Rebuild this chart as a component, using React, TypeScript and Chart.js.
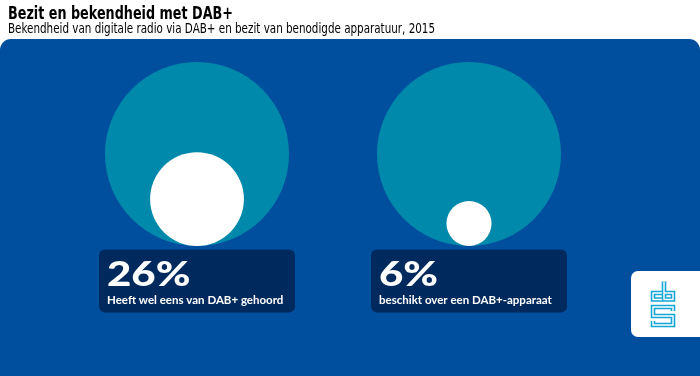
import React, { useEffect, useRef } from 'react';
import { Chart, registerables } from 'chart.js';

Chart.register(...registerables);

const chartTitle = 'Bezit en bekendheid met DAB+';
const chartSubtitle = 'Bekendheid van digitale radio via DAB+ en bezit van benodigde apparatuur, 2015';
const categories = ['Heeft wel eens van DAB+ gehoord', 'beschikt over een DAB+-apparaat'];
const shareValues = [26, 6];
const wholeValues = [100, 100];
const valueLabels = ['26%', '6%'];

const PANEL = '#004f9f';
const TEAL = '#0089aa';
const BOX = '#002a5e';
const LOGO = '#12a5d6';
const TITLE_FONT = "'DejaVu Sans', sans-serif";
const SUB_FONT = "'DejaVu Sans Condensed', 'DejaVu Sans', sans-serif";
const LABEL_FONT = "Lato, 'Open Sans', sans-serif";

function rr(ctx: CanvasRenderingContext2D, x: number, y: number, w: number, h: number, r: number, bottom = true) {
  ctx.beginPath();
  ctx.moveTo(x + r, y);
  ctx.lineTo(x + w - r, y);
  ctx.arcTo(x + w, y, x + w, y + r, r);
  if (bottom) {
    ctx.lineTo(x + w, y + h - r);
    ctx.arcTo(x + w, y + h, x + w - r, y + h, r);
    ctx.lineTo(x + r, y + h);
    ctx.arcTo(x, y + h, x, y + h - r, r);
  } else {
    ctx.lineTo(x + w, y + h);
    ctx.lineTo(x, y + h);
  }
  ctx.lineTo(x, y + r);
  ctx.arcTo(x, y, x + r, y, r);
  ctx.closePath();
}

function drawLogo(ctx: CanvasRenderingContext2D, ox: number, oy: number) {
  const paths: number[][][] = [
    [[11, 12], [2, 12], [2, 18.5], [11, 18.5]],
    [[13, 0.5], [13, 18.5], [22, 18.5], [22, 12], [13, 12]],
    [[22, 30], [22, 26], [2, 26], [2, 35], [22, 35], [22, 44], [2, 44], [2, 40]],
  ];
  const stroke = (w: number, c: string) => {
    ctx.strokeStyle = c;
    ctx.lineWidth = w;
    ctx.lineJoin = 'miter';
    ctx.lineCap = 'butt';
    for (const p of paths) {
      ctx.beginPath();
      p.forEach(([x, y], i) => (i === 0 ? ctx.moveTo(ox + x, oy + y) : ctx.lineTo(ox + x, oy + y)));
      ctx.stroke();
    }
  };
  stroke(4.6, LOGO);
  stroke(1.4, '#ffffff');
}

const decorPlugin = {
  id: 'decor',
  beforeDraw(chart: any) {
    const ctx: CanvasRenderingContext2D = chart.ctx;
    ctx.save();
    ctx.fillStyle = '#ffffff';
    ctx.fillRect(0, 0, chart.width, chart.height);
    ctx.fillStyle = '#000000';
    ctx.textBaseline = 'alphabetic';
    ctx.textAlign = 'left';
    ctx.font = `bold 17px ${TITLE_FONT}`;
    ctx.fillText(chartTitle, 8, 18.5, 225);
    ctx.font = `13.5px ${SUB_FONT}`;
    ctx.fillText(chartSubtitle, 8, 32.5, 427);
    ctx.fillStyle = PANEL;
    rr(ctx, 0, 39, chart.width, chart.height - 39, 11, false);
    ctx.fill();
    ctx.restore();
  },
  afterDatasetsDraw(chart: any) {
    const ctx: CanvasRenderingContext2D = chart.ctx;
    const xs = chart.scales.x;
    const ys = chart.scales.y;
    const base = ys.getPixelForValue(0);
    ctx.save();
    categories.forEach((cat, i) => {
      const cx = xs.getPixelForValue(i);
      const bx = cx - 98;
      const by = base + 3.5;
      ctx.fillStyle = BOX;
      rr(ctx, bx, by, 196, 63, 6);
      ctx.fill();
      ctx.fillStyle = '#ffffff';
      ctx.textAlign = 'left';
      ctx.textBaseline = 'alphabetic';
      ctx.save();
      ctx.translate(bx + 8, by + 36.5);
      ctx.scale(1.2, 1);
      ctx.font = `900 35px ${LABEL_FONT}`;
      ctx.fillText(valueLabels[i], 0, 0);
      ctx.restore();
      ctx.font = `bold 11.5px ${LABEL_FONT}`;
      ctx.fillText(cat, bx + 8, by + 54);
    });
    ctx.fillStyle = '#ffffff';
    rr(ctx, 631, 271, 80, 66, 7);
    ctx.fill();
    drawLogo(ctx, 651, 281);
    ctx.restore();
  },
};

export default function App() {
  const ref = useRef<HTMLCanvasElement | null>(null);
  useEffect(() => {
    if (!ref.current) return;
    const radiusFromData = (c: any) => {
      const ys = c.chart.scales.y;
      if (!ys || !c.raw) return 0;
      const unit = ys.getPixelForValue(0) - ys.getPixelForValue(1);
      return unit * Math.sqrt((c.raw as { p: number }).p / 100);
    };
    const toPoints = (vals: number[]) =>
      vals.map((p, i) => ({ x: i, y: Math.sqrt(p / 100), p }));
    const chart = new Chart(ref.current, {
      type: 'scatter',
      data: {
        datasets: [
          {
            label: 'Aandeel',
            data: toPoints(shareValues) as any,
            backgroundColor: '#ffffff',
            pointBackgroundColor: '#ffffff',
            pointBorderWidth: 0,
            pointRadius: radiusFromData,
            pointHoverRadius: radiusFromData,
            showLine: false,
            clip: false,
          } as any,
          {
            label: 'Totaal',
            data: toPoints(wholeValues) as any,
            backgroundColor: TEAL,
            pointBackgroundColor: TEAL,
            pointBorderWidth: 0,
            pointRadius: radiusFromData,
            pointHoverRadius: radiusFromData,
            showLine: false,
            clip: false,
          } as any,
        ],
      },
      options: {
        responsive: false,
        devicePixelRatio: 1,
        animation: false,
        events: [],
        layout: { padding: { left: 61, right: 95, top: 62, bottom: 130 } },
        scales: {
          x: { type: 'linear', min: -0.5, max: 1.5, display: false },
          y: { type: 'linear', min: 0, max: 2, display: false },
        },
        plugins: { legend: { display: false }, tooltip: { enabled: false } },
      },
      plugins: [decorPlugin],
    });
    return () => chart.destroy();
  }, []);
  return (
    <div style={{ position: 'absolute', left: 0, top: 0, width: 700, height: 376 }}>
      <canvas ref={ref} width={700} height={376} style={{ display: 'block' }} />
    </div>
  );
}
